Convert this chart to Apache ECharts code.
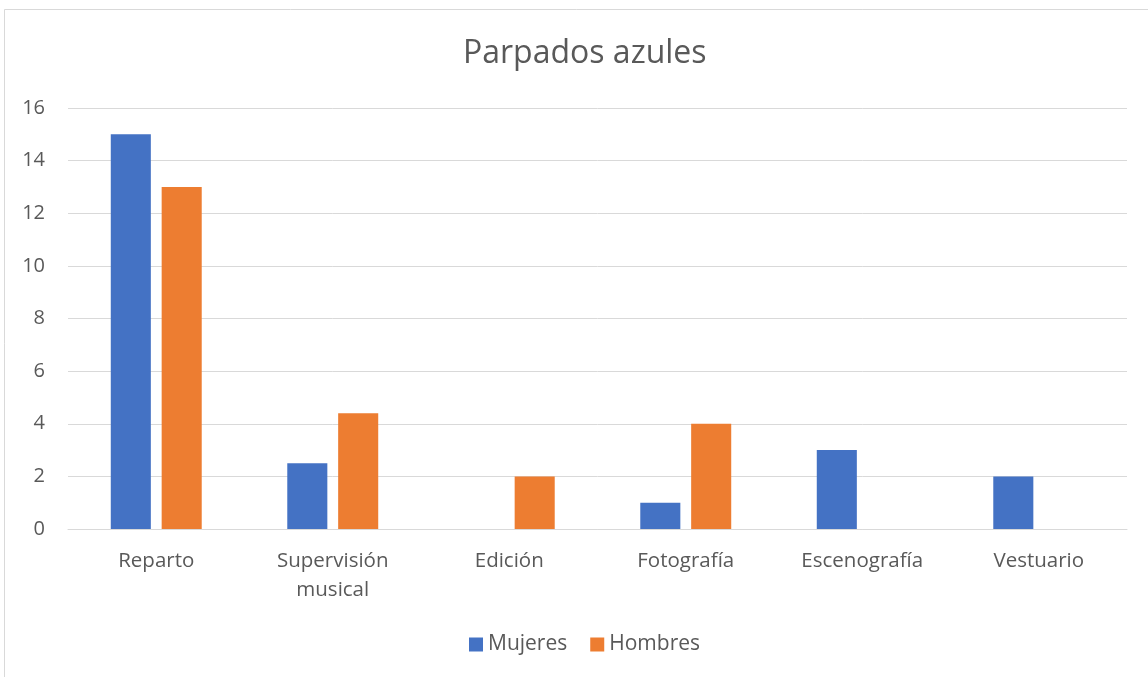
<!DOCTYPE html>
<html><head><meta charset="utf-8">
<script src="https://cdn.jsdelivr.net/npm/echarts@6/dist/echarts.min.js"></script>
<style>html,body{margin:0;padding:0;background:#fff}#c{width:1148px;height:677px}</style>
</head><body><div id="c"></div>
<script>
var categories = ['Reparto', 'Supervisión\nmusical', 'Edición', 'Fotografía', 'Escenografía', 'Vestuario'];
var mujeres = [15, 2.5, null, 1, 3, 2];
var hombres = [13, 4.4, 2, 4, null, null];
var yTicks = {min: 0, max: 16, interval: 2};

var chart = echarts.init(document.getElementById('c'));
var font = '"Open Sans", "Noto Sans", sans-serif';
chart.setOption({
  backgroundColor: '#fff',
  animation: false,
  textStyle: {fontFamily: font},
  graphic: [{type: 'rect', shape: {x: 4.5, y: 9.5, width: 1150, height: 700}, style: {fill: 'none', stroke: '#d9d9d9', lineWidth: 1}, silent: true}],
  title: {text: 'Parpados azules', left: 458, top: 33, textStyle: {fontFamily: font, fontSize: 32, fontWeight: 'normal', color: '#595959'}},
  grid: {left: 68, right: 21, top: 108, bottom: 148, containLabel: false},
  legend: {bottom: 17, left: 464, itemWidth: 14, itemHeight: 14, itemGap: 23, itemTextGap: 7, icon: 'rect',
    textStyle: {fontFamily: font, fontSize: 21, color: '#595959'}, data: ['Mujeres', 'Hombres']},
  xAxis: {type: 'category', data: categories,
    axisLine: {show: true, lineStyle: {color: '#d9d9d9', width: 1}}, axisTick: {show: false},
    axisLabel: {fontFamily: font, fontSize: 20.5, color: '#595959', margin: 18, lineHeight: 29, interval: 0}},
  yAxis: {type: 'value', min: yTicks.min, max: yTicks.max, interval: yTicks.interval,
    axisLine: {show: false}, axisTick: {show: false},
    splitLine: {lineStyle: {color: '#d9d9d9', width: 1}},
    axisLabel: {fontFamily: font, fontSize: 20, color: '#595959', margin: 23}},
  series: [
    {name: 'Mujeres', type: 'bar', data: mujeres, barWidth: '22.7%', barGap: '27%', itemStyle: {color: '#4472C4'}},
    {name: 'Hombres', type: 'bar', data: hombres, barWidth: '22.7%', barGap: '27%', itemStyle: {color: '#ED7D31'}}
  ]
});
</script></body></html>
